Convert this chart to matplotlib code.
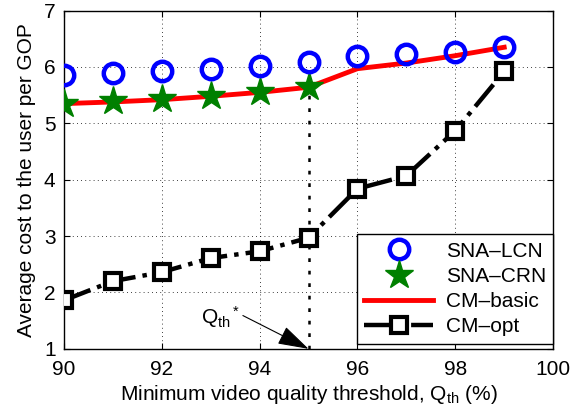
import matplotlib
matplotlib.use("Agg")
import matplotlib.pyplot as plt

plt.rcParams['font.family'] = ['Liberation Sans', 'DejaVu Sans']
plt.rcParams['mathtext.fontset'] = 'custom'
plt.rcParams['mathtext.rm'] = 'Liberation Sans'
plt.rcParams['mathtext.it'] = 'Liberation Sans'

# data
q_all = [90, 91, 92, 93, 94, 95, 96, 97, 98, 99]
q_crn = [90, 91, 92, 93, 94, 95]
sna_lcn = [5.86, 5.89, 5.92, 5.97, 6.01, 6.08, 6.19, 6.23, 6.27, 6.35]
sna_crn = [5.35, 5.39, 5.43, 5.49, 5.55, 5.65]
cm_basic = [5.35, 5.38, 5.42, 5.48, 5.55, 5.64, 5.97, 6.07, 6.20, 6.35]
cm_opt = [1.86, 2.20, 2.36, 2.61, 2.73, 2.97, 3.84, 4.07, 4.87, 5.92]
q_star = 95
xticks = [90, 92, 94, 96, 98, 100]
yticks = [1, 2, 3, 4, 5, 6, 7]

FS = 15


def make_plot():
    fig, ax = plt.subplots(figsize=(5.81, 4.08), dpi=100)
    fig.subplots_adjust(left=0.110, right=0.952, bottom=0.145, top=0.974)

    # threshold marker line
    ax.plot([q_star, q_star], [1, sna_crn[-1]], color='black', lw=1.8,
            linestyle=(0, (1.5, 3.5)), zorder=2)

    ax.plot(q_all, sna_lcn, linestyle='none', marker='o', ms=14,
            mfc='none', mec='blue', mew=3.2, label='SNA\u2013LCN', zorder=5)
    ax.plot(q_crn, sna_crn, linestyle='none', marker='*', ms=21,
            mfc='green', mec='green', label='SNA\u2013CRN', zorder=4)
    ax.plot(q_all, cm_basic, color='red', lw=3.5, label='CM\u2013basic', zorder=3)
    ax.plot(q_all, cm_opt, color='black', lw=3.2, linestyle='-.', marker='s',
            ms=12, mfc='white', mec='black', mew=3, label='CM\u2013opt',
            zorder=4)

    ax.annotate('Q$_{th}$$^*$', xy=(q_star, 1.0), xytext=(92.8, 1.45),
                fontsize=FS,
                arrowprops=dict(arrowstyle='-|>,head_length=1.3,head_width=0.4',
                                color='black', lw=0.8, shrinkA=0, shrinkB=0,
                                relpos=(1.0, 0.6)))

    ax.set_xlim(90, 100)
    ax.set_ylim(1, 7)
    ax.set_xticks(xticks)
    ax.set_yticks(yticks)
    ax.tick_params(direction='in', top=True, right=True, labelsize=FS,
                   length=4)
    ax.tick_params(axis='x', pad=8)
    ax.tick_params(axis='y', pad=6)
    ax.grid(True, color='black', linestyle=(0, (1, 4)), lw=0.6)
    for s in ax.spines.values():
        s.set_linewidth(1.0)

    ax.set_xlabel('Minimum video quality threshold, Q$_{th}$ (%)',
                  fontsize=FS, labelpad=3)
    ax.set_ylabel('Average cost to the user per GOP', fontsize=FS,
                  labelpad=6)

    leg = ax.legend(loc='lower right', bbox_to_anchor=(1.0, 0.015),
                    fontsize=FS, fancybox=False, framealpha=1,
                    edgecolor='black', borderaxespad=0, handlelength=3.3,
                    labelspacing=0.3, borderpad=0.35, handletextpad=0.6)
    leg.get_frame().set_linewidth(1.0)
    return fig


fig = make_plot()
fig.savefig('out.png', dpi=100)
